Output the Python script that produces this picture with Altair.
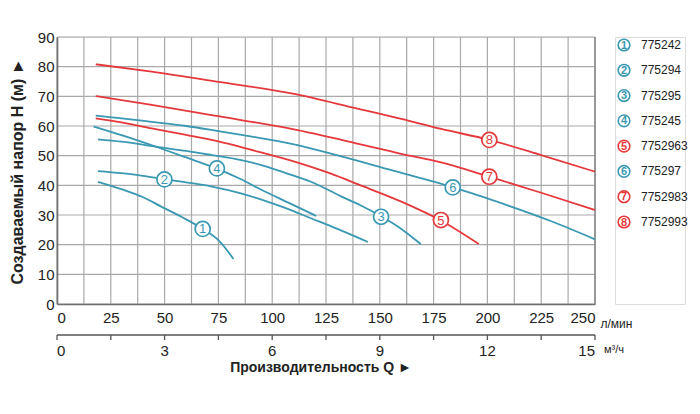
import altair as alt
import pandas as pd

# ---- data ----
nums = ["1", "2", "3", "4", "5", "6", "7", "8"]
codes = ["775242", "775294", "775295", "775245", "7752963", "775297", "7752983", "7752993"]
TEAL = "#3a98b2"
RED = "#e5383b"
series_colors = [TEAL, TEAL, TEAL, TEAL, RED, TEAL, RED, RED]

q1 = [19, 30, 40, 48, 58, 68, 75, 82]
h1 = [41.2, 38.7, 36.0, 33.0, 29.3, 25.2, 21.5, 15.2]
q2 = [19, 30, 40, 50, 60, 72, 85, 95, 106, 118, 130, 144.5]
h2 = [44.8, 44.1, 43.2, 42.0, 41.0, 39.6, 37.4, 35.2, 32.4, 28.9, 25.4, 20.9]
q3 = [19, 30, 48, 60, 72, 85, 95, 106, 118, 132, 141, 151, 160, 169]
h3 = [55.5, 54.7, 52.8, 51.6, 50.2, 48.6, 46.8, 44.2, 41.2, 36.3, 33.3, 29.4, 25.3, 20.2]
q4 = [17, 30, 48, 60, 74, 85, 95, 108, 120.4]
h4 = [59.8, 56.9, 52.5, 49.4, 45.7, 42.2, 38.5, 34.0, 29.7]
q5 = [18, 30, 44, 60, 75, 90, 113, 127, 140, 160, 178, 196]
h5 = [62.6, 61.2, 59.2, 57.0, 54.8, 52.0, 47.4, 44.0, 40.3, 34.5, 28.3, 20.2]
q6 = [18, 30, 44, 60, 75, 90, 109, 130, 155, 184, 200, 215, 230, 250]
h6 = [63.5, 62.6, 61.4, 60.0, 58.3, 56.5, 54.0, 50.2, 45.2, 39.3, 35.6, 31.8, 27.8, 21.8]
q7 = [18, 44, 75, 109, 140, 160, 178, 201, 225, 250]
h7 = [70.1, 67.1, 63.3, 59.0, 54.0, 50.6, 47.8, 42.9, 37.5, 31.7]
q8 = [18, 44, 75, 109, 140, 160, 178, 201, 225, 250]
h8 = [80.8, 78.3, 74.9, 71.0, 65.8, 62.4, 59.1, 55.3, 50.2, 44.6]

label_q = [67.7, 49.9, 150.6, 74.3, 178.4, 183.9, 200.9, 200.9]
label_h = [25.3, 42.0, 29.4, 45.7, 28.3, 39.3, 42.9, 55.3]

x_ticks_lmin = [i * 12.5 for i in range(21)]
y_ticks = list(range(0, 91, 10))
x_ticks_m3 = [i * 1.5 for i in range(11)]
q_domain = [0, 250]
h_domain = [0, 90]
x_title = "Производительность Q ►"
y_title = "Создаваемый напор Н (м) ►"
unit_lmin = "л/мин"
unit_m3 = "м³/ч"

# ---- tables ----
qs = [q1, q2, q3, q4, q5, q6, q7, q8]
hs = [h1, h2, h3, h4, h5, h6, h7, h8]
rows = []
for n, q, h in zip(nums, qs, hs):
    for a, b in zip(q, h):
        rows.append({"s": n, "q": a, "h": b})
df = pd.DataFrame(rows)
df_lab = pd.DataFrame({"s": nums, "q": label_q, "h": label_h})
df_leg = pd.DataFrame({"s": nums, "code": codes})
df_gx = pd.DataFrame({"q": x_ticks_lmin})
df_gy = pd.DataFrame({"h": y_ticks})
df_border = pd.DataFrame({"q": [q_domain[1]]})

to_lmin = 1000 / 60  # 1 m3/h = 16.67 l/min
df_ax2 = pd.DataFrame({"q": [q_domain[0]], "q2": [q_domain[1]]})
df_t2 = pd.DataFrame({"q": [v * to_lmin for v in x_ticks_m3]})
lab_vals = [v for v in x_ticks_m3 if abs(v % 3) < 1e-9]
df_l2 = pd.DataFrame({"q": [v * to_lmin for v in lab_vals],
                      "t": [str(int(round(v))) for v in lab_vals]})

FONT = "Liberation Sans"
GRID = "#a9a9a9"
AX2 = "#555555"
cscale = alt.Scale(domain=nums, range=series_colors)
xscale = alt.Scale(domain=q_domain, nice=False, zero=True)
yscale = alt.Scale(domain=h_domain, nice=False)

xaxis = alt.Axis(values=x_ticks_lmin, labelExpr="datum.value % 25 == 0 ? datum.label : ''",
                 ticks=False, labelPadding=6, labelFlush=True, labelFontSize=15,
                 labelOverlap=False, labelColor="#222", domainColor="#6f6f6f", domainWidth=1.6,
                 grid=False, zindex=1, title=unit_lmin, titleFontSize=12,
                 titleFontWeight="normal", titleColor="#222", titleX=543, titleY=23,
                 titleAlign="left", titleBaseline="alphabetic", orient="bottom")
yaxis = alt.Axis(values=y_ticks, ticks=False, labelPadding=3, labelFontSize=15,
                 labelOverlap=False, labelColor="#222", domainColor="#6f6f6f", domainWidth=1.6,
                 grid=False, zindex=1, title=y_title, titleFontSize=16,
                 titleFontWeight="bold", titleColor="#222", titleX=-40, titleY=134,
                 titleAngle=-90, titleAlign="center", titleBaseline="middle")

xenc = alt.X("q:Q", scale=xscale, axis=xaxis)
yenc = alt.Y("h:Q", scale=yscale, axis=yaxis)

# grid and right border from the tick arrays
grid_x = alt.Chart(df_gx).mark_rule(color=GRID, strokeWidth=1.2, opacity=1).encode(x=xenc)
grid_y = alt.Chart(df_gy).mark_rule(color=GRID, strokeWidth=1.2, opacity=1).encode(y=yenc)
border = alt.Chart(df_border).mark_rule(color="#8c8c8c", strokeWidth=1.6).encode(x=xenc)

lines = alt.Chart(df).mark_line(strokeWidth=1.8, interpolate="monotone").encode(
    x=xenc, y=yenc, color=alt.Color("s:N", scale=cscale, legend=None))
lab_circ = alt.Chart(df_lab).mark_point(shape="circle", size=227, fill="white", fillOpacity=1,
                                        opacity=1, strokeWidth=1.7).encode(
    x=xenc, y=yenc, stroke=alt.Stroke("s:N", scale=cscale, legend=None))
lab_txt = alt.Chart(df_lab).mark_text(fontSize=13, font=FONT, baseline="middle",
                                      align="center", dy=0.5).encode(
    x=xenc, y=yenc, text="s:N", color=alt.Color("s:N", scale=cscale, legend=None))

# second (m3/h) axis drawn under the first, on the same Q scale
ax2_line = alt.Chart(df_ax2).mark_rule(color=AX2, strokeWidth=1.3).encode(
    x=xenc, x2="q2:Q", y=alt.value(298))
ax2_ticks = alt.Chart(df_t2).mark_rule(color=AX2, strokeWidth=1.3).encode(
    x=xenc, y=alt.value(298), y2=alt.value(303))
ax2_first = alt.Chart(df_l2.iloc[:1]).mark_text(fontSize=15, font=FONT, baseline="top",
                                                align="left", color="#222").encode(
    x=xenc, y=alt.value(307), text="t:N")
ax2_mid = alt.Chart(df_l2.iloc[1:-1]).mark_text(fontSize=15, font=FONT, baseline="top",
                                                align="center", color="#222").encode(
    x=xenc, y=alt.value(307), text="t:N")
ax2_last = alt.Chart(df_l2.iloc[-1:]).mark_text(fontSize=15, font=FONT, baseline="top",
                                                align="right", color="#222").encode(
    x=xenc, y=alt.value(307), text="t:N")
ax2_title = alt.Chart(pd.DataFrame({"t": [x_title]})).mark_text(
    fontSize=14, fontWeight="bold", font=FONT, align="center", baseline="middle",
    color="#222").encode(text="t:N", x=alt.value(264), y=alt.value(331))
ax2_unit = alt.Chart(pd.DataFrame({"t": [unit_m3]})).mark_text(
    fontSize=11, font=FONT, align="left", baseline="alphabetic", color="#222").encode(
    text="t:N", x=alt.value(547), y=alt.value(316))

main = alt.layer(grid_x, grid_y, border, lines, lab_circ, lab_txt,
                 ax2_line, ax2_ticks, ax2_first, ax2_mid, ax2_last, ax2_title, ax2_unit
                 ).properties(width=538, height=267)

# legend panel
leg_y = alt.Y("s:N", sort=nums, axis=None,
              scale=alt.Scale(type="point", range=[8, 185], padding=0))
leg_circ = alt.Chart(df_leg).mark_point(shape="circle", size=135, fill="white", fillOpacity=1,
                                        opacity=1, strokeWidth=1.6).encode(
    x=alt.value(9), y=leg_y, stroke=alt.Stroke("s:N", scale=cscale, legend=None))
leg_num = alt.Chart(df_leg).mark_text(fontSize=11, fontWeight="bold", font=FONT, align="center",
                                      baseline="middle", dy=0.5).encode(
    x=alt.value(9), y=leg_y, text="s:N", color=alt.Color("s:N", scale=cscale, legend=None))
leg_txt = alt.Chart(df_leg).mark_text(fontSize=12, font=FONT, align="left", baseline="middle",
                                      color="#222").encode(
    x=alt.value(26), y=leg_y, text="code:N")
legend = alt.layer(leg_circ, leg_num, leg_txt).properties(width=70, height=267)

chart = alt.hconcat(main, legend, spacing=20, bounds="flush").properties(
    padding={"left": 8, "top": 29, "right": 10, "bottom": 30},
).configure_view(strokeWidth=0, stroke="transparent").configure(font=FONT)

chart.save("out.html", embed_options={"renderer": "svg", "actions": False})
